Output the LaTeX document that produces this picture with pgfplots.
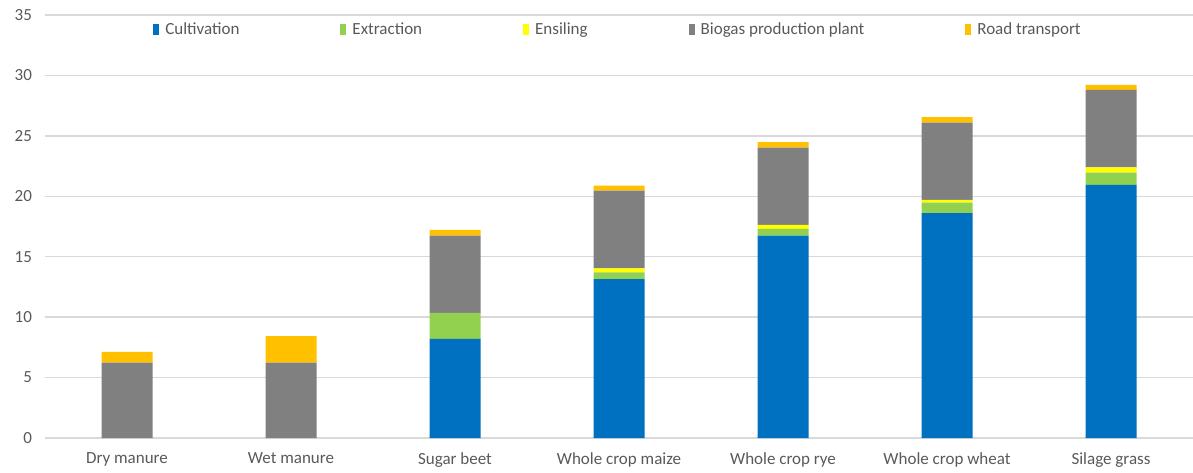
\documentclass[border=0pt]{standalone}
\usepackage{pgfplots}
\pgfplotsset{compat=1.18}
\usepackage{fontspec}
\setmainfont{Carlito}
\definecolor{cblue}{HTML}{0070C0}
\definecolor{cgreen}{HTML}{92D050}
\definecolor{cyellow}{HTML}{FFFF00}
\definecolor{cgray}{HTML}{808080}
\definecolor{corange}{HTML}{FFC000}
\definecolor{txt}{HTML}{595959}
\definecolor{grid}{HTML}{D9D9D9}
\begin{document}
\begin{tikzpicture}
\path[use as bounding box] (-22.5pt,-17pt) rectangle (574pt,219pt);
\begin{axis}[
  scale only axis,
  width=574pt, height=211.5pt,
  ybar stacked,
  bar width=25.5pt,
  xmin=-0.5, xmax=6.5,
  ymin=0, ymax=35,
  ytick={0,5,...,35},
  xtick={0,...,6},
  xticklabels={Dry manure,Wet manure,Sugar beet,Whole crop maize,Whole crop rye,Whole crop wheat,Silage grass},
  major tick length=0pt,
  axis line style={draw=none},
  ymajorgrids,
  major grid style={color=grid, line width=0.7pt},
  tick label style={font=\fontsize{8.5}{9}\selectfont, text=txt},
  /pgf/number format/assume math mode=true,
  yticklabel style={xshift=-3pt},
  xticklabel style={yshift=-4pt},
  legend columns=5,
  legend style={draw=none, fill=none, at={(0.5,0.965)}, anchor=center,
    font=\fontsize{8.5}{9}\selectfont, text=txt,
    /tikz/every even column/.append style={column sep=48.5pt},
    /tikz/every odd column/.append style={column sep=1pt}},
  legend image code/.code={\fill[#1] (0pt,-2.8pt) rectangle (3pt,2.8pt);},
]
\addplot[fill=cblue, draw=none] coordinates {(0,0) (1,0) (2,8.2) (3,13.15) (4,16.75) (5,18.6) (6,20.95)};
\addplot[fill=cgreen, draw=none] coordinates {(0,0) (1,0) (2,2.15) (3,0.56) (4,0.55) (5,0.88) (6,1.0)};
\addplot[fill=cyellow, draw=none] coordinates {(0,0) (1,0) (2,0) (3,0.33) (4,0.33) (5,0.22) (6,0.45)};
\addplot[fill=cgray, draw=none] coordinates {(0,6.23) (1,6.23) (2,6.4) (3,6.42) (4,6.4) (5,6.4) (6,6.4)};
\addplot[fill=corange, draw=none] coordinates {(0,0.89) (1,2.21) (2,0.47) (3,0.42) (4,0.45) (5,0.45) (6,0.41)};
\legend{Cultivation,Extraction,Ensiling,Biogas production plant,Road transport}
\end{axis}
\end{tikzpicture}
\end{document}
